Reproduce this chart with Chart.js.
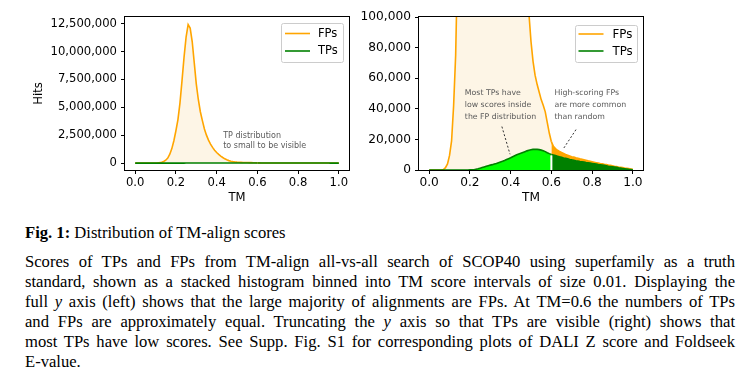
<!DOCTYPE html>
<html>
<head>
<meta charset="utf-8">
<script src="https://cdn.jsdelivr.net/npm/chart.js@4"></script>
<style>
  body { margin: 0; background: #fff; width: 755px; height: 386px; overflow: hidden; position: relative; }
  canvas { position: absolute; top: 0; }
  #left { left: 0; }
  #right { left: 360px; }
  .cap { position: absolute; left: 25px; width: 710px; font-family: 'Liberation Serif', serif; font-size: 16.6px; line-height: 20px; color: #000; }
  .cap .j { text-align: justify; text-align-last: justify; }
</style>
</head>
<body>
<canvas id="left" width="360" height="210"></canvas>
<canvas id="right" width="300" height="210"></canvas>

<div class="cap" style="top:223px"><b>Fig. 1:</b> Distribution of TM-align scores</div>
<div class="cap" style="top:252px">
  <div class="j">Scores of TPs and FPs from TM-align all-vs-all search of SCOP40 using superfamily as a truth</div>
  <div class="j">standard, shown as a stacked histogram binned into TM score intervals of size 0.01. Displaying the</div>
  <div class="j">full <i>y</i> axis (left) shows that the large majority of alignments are FPs. At TM=0.6 the numbers of TPs</div>
  <div class="j">and FPs are approximately equal. Truncating the <i>y</i> axis so that TPs are visible (right) shows that</div>
  <div class="j">most TPs have low scores. See Supp. Fig. S1 for corresponding plots of DALI Z score and Foldseek</div>
  <div>E-value.</div>
</div>

<script>
// TM score bins (0.01 wide)
const tm = [
  0.00, 0.01, 0.02, 0.03, 0.04, 0.05, 0.06, 0.07, 0.08, 0.09,
  0.10, 0.11, 0.12, 0.13, 0.14, 0.15, 0.16, 0.17, 0.18, 0.19,
  0.20, 0.21, 0.22, 0.23, 0.24, 0.25, 0.26, 0.27, 0.28, 0.29,
  0.30, 0.31, 0.32, 0.33, 0.34, 0.35, 0.36, 0.37, 0.38, 0.39,
  0.40, 0.41, 0.42, 0.43, 0.44, 0.45, 0.46, 0.47, 0.48, 0.49,
  0.50, 0.51, 0.52, 0.53, 0.54, 0.55, 0.56, 0.57, 0.58, 0.59,
  0.60, 0.61, 0.62, 0.63, 0.64, 0.65, 0.66, 0.67, 0.68, 0.69,
  0.70, 0.71, 0.72, 0.73, 0.74, 0.75, 0.76, 0.77, 0.78, 0.79,
  0.80, 0.81, 0.82, 0.83, 0.84, 0.85, 0.86, 0.87, 0.88, 0.89,
  0.90, 0.91, 0.92, 0.93, 0.94, 0.95, 0.96, 0.97, 0.98, 0.99,
  1.00
];

// true positives per bin
const tpHits = [
  0, 0, 0, 0, 0, 0, 0, 0, 0, 0,
  0, 0, 0, 0, 0, 0, 0, 0, 0, 0,
  50, 100, 200, 500, 800, 1200, 1600, 2000, 2400, 2800,
  3200, 3500, 3900, 4300, 4800, 5300, 5700, 6200, 6800, 7400,
  8000, 8700, 9300, 9900, 10500, 11000, 11500, 12000, 12500, 12900,
  13200, 13500, 13600, 13500, 13300, 13000, 12600, 12000, 11300, 10700,
  10200, 9800, 9400, 9000, 8600, 8300, 7900, 7600, 7300, 6900,
  6600, 6400, 6100, 5900, 5600, 5400, 5200, 4900, 4700, 4500,
  4300, 4100, 3900, 3600, 3400, 3200, 3000, 2800, 2500, 2300,
  2100, 1900, 1700, 1400, 1200, 1000, 800, 600, 400, 300,
  100
];

// false positives per bin (stacked on top of TPs)
const fpHits = [
  0, 0, 0, 0, 0, 0, 0, 300, 1500, 4000,
  9500, 19000, 42000, 75000, 140000, 260000, 450000, 800000, 1300000, 2000000,
  2900000, 3900000, 5400000, 7400000, 9500000, 11300000, 12420000, 12100000, 10900000, 9000000,
  7100000, 5700000, 4600000, 3800000, 3050000, 2500000, 2050000, 1700000, 1400000, 1150000,
  940000, 770000, 620000, 490000, 370000, 280000, 210000, 158000, 120000, 89000,
  70800, 57500, 48400, 42500, 37700, 33000, 29700, 26000, 19700, 13300,
  8300, 5700, 4600, 3900, 3500, 3100, 2900, 2600, 2400, 2300,
  2100, 2000, 1900, 1800, 1700, 1600, 1500, 1500, 1300, 1200,
  1100, 1000, 900, 900, 800, 800, 700, 700, 700, 700,
  700, 600, 600, 600, 600, 600, 500, 500, 500, 400,
  300
];

const xTicks = [0, 0.2, 0.4, 0.6, 0.8, 1.0];
const leftYTicks = [0, 2500000, 5000000, 7500000, 10000000, 12500000];
const rightYTicks = [0, 20000, 40000, 60000, 80000, 100000];
const splitTM = 0.6;

function points(values) {
  return values.map((v, i) => ({ x: tm[i], y: v }));
}

// frame, legend box, notes and the white split line
const decor = {
  id: 'decor',
  afterDatasetsDraw(chart, args, opts) {
    if (!opts.split) return;
    const ctx = chart.ctx, xs = chart.scales.x, ys = chart.scales.y;
    const i = tm.indexOf(splitTM);
    const px = xs.getPixelForValue(splitTM);
    ctx.save();
    ctx.strokeStyle = '#fff';
    ctx.lineWidth = 2;
    ctx.beginPath();
    ctx.moveTo(px, ys.getPixelForValue(0));
    ctx.lineTo(px, ys.getPixelForValue(tpHits[i]) + 1);
    ctx.stroke();
    ctx.restore();
  },
  afterDraw(chart, args, opts) {
    const ctx = chart.ctx, a = chart.chartArea;
    const xs = chart.scales.x, ys = chart.scales.y;
    ctx.save();

    // notes
    ctx.font = opts.noteSize + 'px "DejaVu Sans"';
    ctx.fillStyle = '#5a5a5a';
    ctx.textBaseline = 'middle';
    ctx.textAlign = 'left';
    opts.notes.forEach(n => {
      const px = xs.getPixelForValue(n.x), py = ys.getPixelForValue(n.y);
      n.lines.forEach((t, k) => ctx.fillText(t, px, py + k * n.lh));
    });
    ctx.strokeStyle = '#333';
    ctx.lineWidth = 1;
    ctx.setLineDash([2, 2]);
    opts.arrows.forEach(l => {
      ctx.beginPath();
      ctx.moveTo(xs.getPixelForValue(l[0]), ys.getPixelForValue(l[1]));
      ctx.lineTo(xs.getPixelForValue(l[2]), ys.getPixelForValue(l[3]));
      ctx.stroke();
    });
    ctx.setLineDash([]);

    // frame
    ctx.strokeStyle = '#000';
    ctx.lineWidth = 1;
    ctx.strokeRect(Math.round(a.left) - 0.5, Math.round(a.top) - 0.5,
      Math.round(a.right) - Math.round(a.left) + 1, Math.round(a.bottom) - Math.round(a.top) + 1);

    // legend
    const lg = opts.legend;
    const bx = a.right - lg.dx - lg.w, by = a.top + lg.dy;
    ctx.fillStyle = 'rgba(255,255,255,0.8)';
    ctx.strokeStyle = '#cccccc';
    ctx.beginPath();
    ctx.roundRect(bx + 0.5, by + 0.5, lg.w, lg.h, 2);
    ctx.fill();
    ctx.stroke();
    ctx.font = lg.size + 'px "DejaVu Sans"';
    ctx.fillStyle = '#000';
    const items = chart.data.datasets.slice().reverse();
    items.forEach((d, k) => {
      const y = by + lg.row0 + k * lg.rowH;
      ctx.strokeStyle = d.borderColor;
      ctx.lineWidth = 1.6;
      ctx.beginPath();
      ctx.moveTo(bx + lg.line0, y);
      ctx.lineTo(bx + lg.line1, y);
      ctx.stroke();
      ctx.fillText(d.label, bx + lg.text, y + 0.5);
    });
    ctx.restore();
  }
};

function hitsChart(id, o) {
  const font = { family: 'DejaVu Sans', size: o.font };
  return new Chart(document.getElementById(id), {
    type: 'line',
    data: {
      datasets: [
        {
          label: 'TPs', data: points(tpHits),
          borderColor: '#008000', borderWidth: 1.6, pointRadius: 0, fill: 'origin',
          segment: { backgroundColor: c => c.p0.parsed.x >= splitTM - 1e-9 ? '#008000' : '#00ff00' }
        },
        {
          label: 'FPs', data: points(fpHits),
          borderColor: '#ffa500', borderWidth: 1.6, pointRadius: 0, fill: '-1',
          segment: { backgroundColor: c => c.p0.parsed.x >= splitTM - 1e-9 ? '#ffa500' : '#fdf5e6' }
        }
      ]
    },
    options: {
      animation: false,
      responsive: false,
      devicePixelRatio: 1,
      layout: { padding: { top: o.top, right: o.right, left: 0, bottom: 0 } },
      plugins: {
        legend: { display: false },
        tooltip: { enabled: false },
        decor: o.decor
      },
      scales: {
        x: {
          type: 'linear', min: -0.05, max: 1.05,
          afterBuildTicks: s => { s.ticks = xTicks.map(v => ({ value: v })); },
          afterFit: s => { s.height = 40; },
          ticks: { callback: v => v.toFixed(1), font: font, color: '#000', padding: 2, maxRotation: 0, autoSkip: false },
          grid: { drawOnChartArea: false, drawTicks: true, tickLength: 4, color: '#000' },
          border: { display: false },
          title: { display: true, text: 'TM', font: font, color: '#000', padding: { top: 0, bottom: 5 } }
        },
        y: {
          stacked: true, min: o.yMin, max: o.yMax,
          afterBuildTicks: s => { s.ticks = o.yTicks.map(v => ({ value: v })); },
          afterFit: s => { s.width = o.yWidth; },
          ticks: { callback: v => v.toLocaleString('en-US'), font: font, color: '#000', padding: 4, autoSkip: false },
          grid: { drawOnChartArea: false, drawTicks: true, tickLength: 4, color: '#000' },
          border: { display: false },
          title: { display: !!o.yTitle, text: o.yTitle || '', font: font, color: '#000', padding: { top: 32, bottom: 0 } }
        }
      }
    },
    plugins: [decor]
  });
}

hitsChart('left', {
  font: 11.6, top: 17, right: 11, yWidth: 125,
  yMin: -620000, yMax: 13100000, yTicks: leftYTicks, yTitle: 'Hits',
  decor: {
    split: false, noteSize: 8,
    notes: [{ x: 0.432, y: 2450000, lh: 10.5, lines: ['TP distribution', 'to small to be visible'] }],
    arrows: [],
    legend: { w: 62, h: 39, dx: 6, dy: 6, size: 11.5, row0: 10.5, rowH: 17.5, line0: 4, line1: 29, text: 37 }
  }
});

hitsChart('right', {
  font: 12.2, top: 17, right: 17, yWidth: 59,
  yMin: 0, yMax: 100000, yTicks: rightYTicks,
  decor: {
    split: true, noteSize: 7.8,
    notes: [
      { x: 0.175, y: 50200, lh: 12, lines: ['Most TPs have', 'low scores inside', 'the FP distribution'] },
      { x: 0.615, y: 50200, lh: 12, lines: ['High-scoring FPs', 'are more common', 'than random'] }
    ],
    arrows: [[0.357, 28400, 0.397, 10300], [0.721, 26400, 0.656, 13300]],
    legend: { w: 62, h: 37, dx: 6, dy: 8, size: 11.8, row0: 9, rowH: 17, line0: 3.5, line1: 28.5, text: 37.5 }
  }
});
</script>
</body>
</html>
